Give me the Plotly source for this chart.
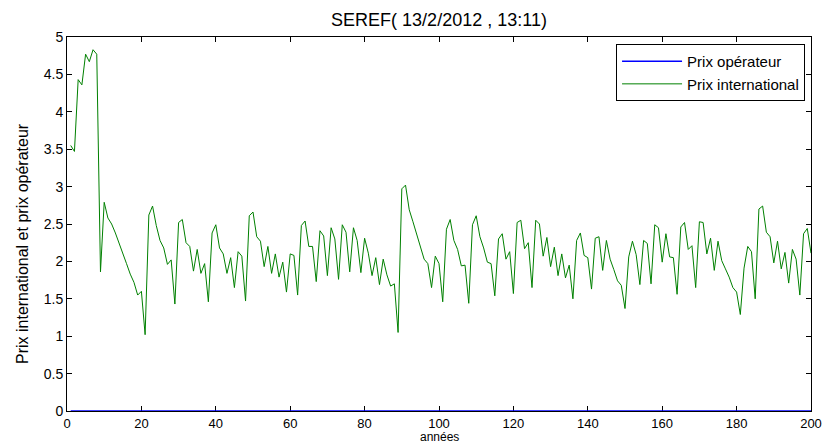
import plotly.graph_objects as go

years = list(range(1, 201))
prix_international = [
    3.55, 3.47, 4.43, 4.36, 4.77, 4.67, 4.83, 4.77, 1.86, 2.79,
    2.58, 2.50, 2.38, 2.25, 2.11, 1.97, 1.83, 1.72, 1.55, 1.60,
    1.02, 2.62, 2.74, 2.48, 2.28, 2.18, 1.96, 2.02, 1.43, 2.52,
    2.56, 2.25, 2.20, 1.87, 2.16, 1.84, 1.97, 1.46, 2.38, 2.49,
    2.18, 2.10, 1.84, 2.05, 1.65, 2.13, 2.07, 1.47, 2.61, 2.66,
    2.33, 2.27, 1.93, 2.20, 1.84, 2.10, 1.79, 1.99, 1.59, 2.10,
    2.08, 1.55, 2.48, 2.54, 2.20, 2.20, 1.73, 2.41, 2.34, 1.81,
    2.45, 2.30, 1.76, 2.49, 2.39, 1.86, 2.45, 2.28, 1.85, 2.31,
    2.11, 1.81, 2.05, 1.69, 2.03, 1.82, 1.67, 1.70, 1.05, 2.97,
    3.02, 2.69, 2.53, 2.36, 2.22, 2.03, 1.97, 1.65, 2.07, 1.97,
    1.46, 2.43, 2.56, 2.28, 2.16, 1.94, 1.95, 1.44, 2.49, 2.61,
    2.33, 2.18, 1.99, 1.97, 1.54, 2.30, 2.37, 2.03, 2.13, 1.57,
    2.52, 2.55, 2.17, 2.25, 1.65, 2.55, 2.50, 2.07, 2.32, 1.93,
    2.19, 1.81, 2.10, 1.78, 1.95, 1.50, 2.28, 2.38, 2.08, 2.05,
    1.63, 2.31, 2.33, 1.88, 2.28, 2.03, 1.89, 1.74, 1.68, 1.37,
    2.06, 2.27, 2.09, 1.69, 2.28, 2.24, 1.70, 2.49, 2.45, 1.99,
    2.37, 2.06, 2.05, 1.56, 2.46, 2.52, 2.16, 2.21, 1.65, 2.53,
    2.52, 2.10, 2.31, 1.88, 2.27, 2.01, 1.90, 1.79, 1.65, 1.59,
    1.29, 1.91, 2.20, 2.13, 1.50, 2.70, 2.74, 2.39, 2.33, 1.98,
    2.27, 1.90, 2.12, 1.71, 2.16, 2.03, 1.55, 2.37, 2.44, 2.11,
]
prix_operateur = [0.0] * 200

x_ticks = list(range(0, 201, 20))
y_ticks = [0, 0.5, 1, 1.5, 2, 2.5, 3, 3.5, 4, 4.5, 5]
y_tick_labels = ["0", "0.5", "1", "1.5", "2", "2.5", "3", "3.5", "4", "4.5", "5"]

FONT = "Liberation Sans, Arial, Helvetica, sans-serif"

fig = go.Figure()
fig.add_trace(go.Scatter(x=years, y=prix_operateur, mode="lines",
                         name="Prix opérateur",
                         line=dict(color="#0000ff", width=1.5)))
fig.add_trace(go.Scatter(x=years, y=prix_international, mode="lines",
                         name="Prix international",
                         line=dict(color="#008000", width=1)))

axis_common = dict(showline=True, linecolor="black", linewidth=1, mirror="ticks",
                   ticks="inside", ticklen=5, tickcolor="black", showgrid=False,
                   zeroline=False, layer="below traces")

fig.update_layout(
    width=825, height=445,
    margin=dict(l=67, r=14, t=37, b=34),
    paper_bgcolor="white", plot_bgcolor="white",
    font=dict(family=FONT, color="black"),
    title=dict(text="SEREF( 13/2/2012 , 13:11)", x=0.5, xref="paper",
               y=1 - 20 / 445, yref="container", yanchor="middle",
               font=dict(family=FONT, size=18, color="black")),
    xaxis=dict(range=[0, 200], tickvals=x_ticks, automargin=False, ticklabelstandoff=0,
               tickfont=dict(family=FONT, size=13, color="black"), **axis_common),
    yaxis=dict(range=[0, 5], tickvals=y_ticks, ticktext=y_tick_labels, automargin=False,
               tickfont=dict(family=FONT, size=14, color="black"), **axis_common),
    showlegend=True,
    legend=dict(x=0.992, xanchor="right", y=0.981, yanchor="top",
                bgcolor="white", bordercolor="black", borderwidth=1,
                font=dict(family=FONT, size=15, color="black"),
                itemwidth=60, tracegroupgap=0),
    annotations=[
        dict(text="Prix international et prix opérateur", textangle=-90,
             xref="paper", yref="paper", x=0, y=0.5, xanchor="center",
             yanchor="middle", xshift=-45, yshift=-20, showarrow=False,
             font=dict(family=FONT, size=16, color="black")),
        dict(text="années", xref="paper", yref="paper", x=0.5, y=0,
             xanchor="center", yanchor="top", yshift=-18, showarrow=False,
             borderpad=0, font=dict(family=FONT, size=12, color="black")),
    ],
)

fig.write_html("out.html")
